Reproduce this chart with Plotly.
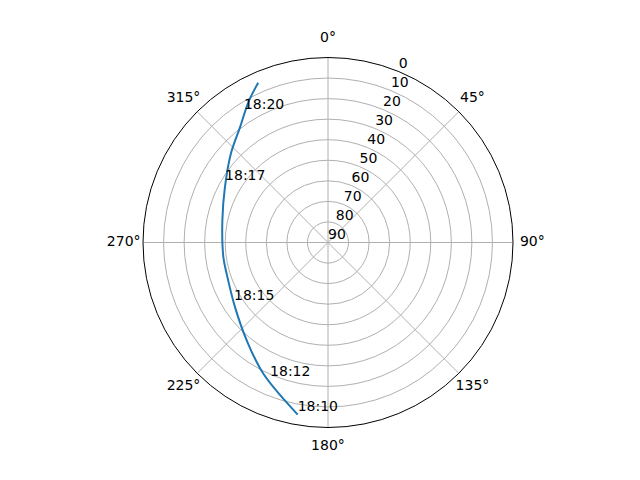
import plotly.graph_objects as go

# Satellite track (azimuth deg, elevation deg)
track_az = [190.0, 206.2, 219.7, 235.2, 252.8, 262.0, 281.8, 298.2, 312.4, 322.6, 330.9, 336.4]
track_el = [5.0, 18.8, 28.1, 34.9, 38.4, 38.6, 37.5, 33.1, 26.0, 19.5, 11.0, 5.2]

# Time labels
label_text = ["18:10", "18:12", "18:15", "18:17", "18:20"]
label_az = [190.0, 202.9, 237.0, 299.8, 327.1]
label_el = [5.0, 17.6, 35.5, 32.3, 14.7]

radial_ticks = [0, 10, 20, 30, 40, 50, 60, 70, 80, 90]
angular_ticks = [0, 45, 90, 135, 180, 225, 270, 315]

font = dict(family="DejaVu Sans", size=14, color="black")

# page offset of the figure inside the browser page
OFF = 8
CX, CY, R = 328 - OFF, 242.5 - OFF, 185
RLABEL_ANGLE = 22.5       # azimuth where radial tick labels sit
EXTRA = 15                # extra range of the helper polar for angular labels
R2 = R * (90 + EXTRA) / 90
ANG_LABEL_R = -9.4        # elevation-scale position of angular labels (outside rim)


def dom(cx, cy, r):
    return dict(x=[(cx - r) / 640, (cx + r) / 640],
                y=[1 - (cy + r) / 480, 1 - (cy - r) / 480])


fig = go.Figure()
fig.add_trace(go.Scatterpolar(
    theta=track_az, r=track_el, mode="lines",
    line=dict(color="#1f77b4", width=2, shape="spline"),
    showlegend=False, hoverinfo="skip", subplot="polar",
))
fig.add_trace(go.Scatterpolar(
    theta=label_az, r=label_el, mode="text", text=label_text,
    textposition="top right", textfont=font,
    showlegend=False, hoverinfo="skip", subplot="polar",
))
# radial tick labels
fig.add_trace(go.Scatterpolar(
    theta=[RLABEL_ANGLE] * len(radial_ticks), r=radial_ticks, mode="text",
    text=[str(t) for t in radial_ticks],
    textposition="top right", textfont=font, cliponaxis=False,
    showlegend=False, hoverinfo="skip", subplot="polar",
))
# angular tick labels on a helper polar sharing the centre
fig.add_trace(go.Scatterpolar(
    theta=angular_ticks, r=[ANG_LABEL_R] * len(angular_ticks), mode="text",
    text=[f"{a}°" for a in angular_ticks],
    textposition="middle center", textfont=font, cliponaxis=False,
    showlegend=False, hoverinfo="skip", subplot="polar2",
))

fig.update_layout(
    width=640, height=480,
    margin=dict(l=0, r=0, t=0, b=0),
    paper_bgcolor="white",
    font=font,
    polar=dict(
        domain=dom(CX, CY, R),
        bgcolor="white",
        angularaxis=dict(
            rotation=90, direction="clockwise",
            tickmode="array", tickvals=angular_ticks,
            showticklabels=False,
            showgrid=True, gridcolor="#b0b0b0", gridwidth=1,
            showline=True, linecolor="black", linewidth=1,
            ticks="",
        ),
        radialaxis=dict(
            range=[90, 0],
            tickmode="array", tickvals=radial_ticks,
            showticklabels=False,
            showgrid=True, gridcolor="#b0b0b0", gridwidth=1,
            showline=False, ticks="",
        ),
    ),
    polar2=dict(
        domain=dom(CX, CY, R2),
        bgcolor="rgba(0,0,0,0)",
        angularaxis=dict(
            rotation=90, direction="clockwise",
            showticklabels=False, showgrid=False, showline=False, ticks="",
        ),
        radialaxis=dict(
            range=[90, -EXTRA],
            showticklabels=False, showgrid=False, showline=False, ticks="",
        ),
    ),
)

fig.write_html("out.html")
